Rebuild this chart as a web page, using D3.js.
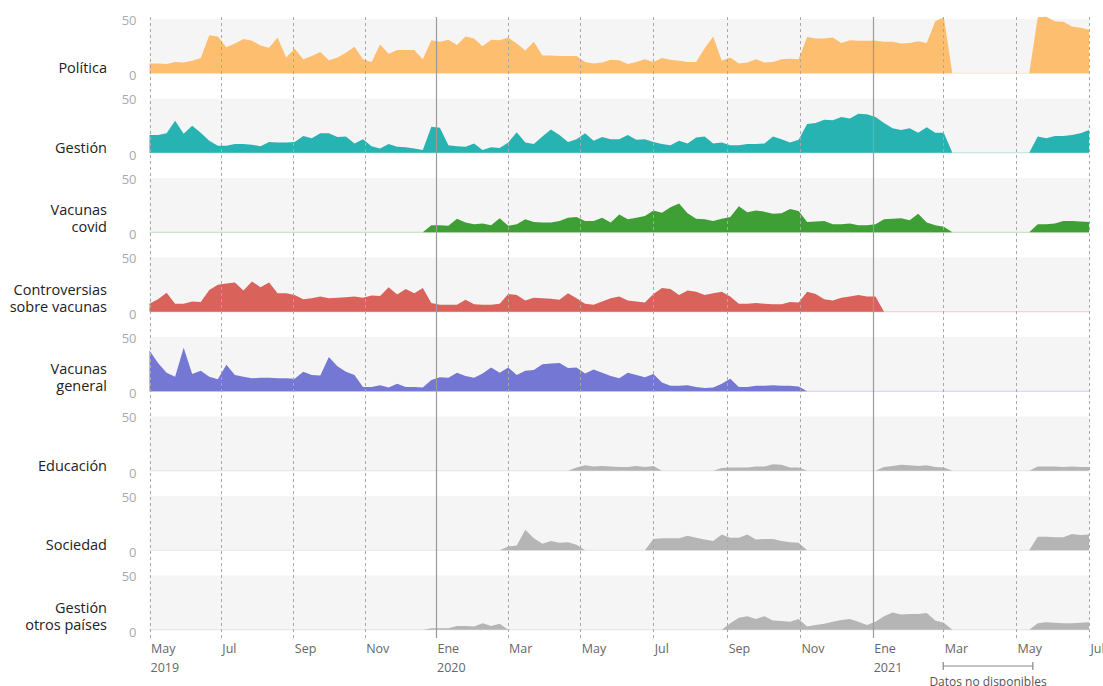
<!DOCTYPE html>
<html>
<head>
<meta charset="utf-8">
<script src="https://cdn.jsdelivr.net/npm/d3@7"></script>
<style>
  body { margin: 0; background: #fff; font-family: "Open Sans", sans-serif; }
</style>
</head>
<body>
<div id="chart"></div>
<script>
// weekly share of coverage per topic, May 2019 - Jul 2021
const categories = [
    ["Política"],
    ["Gestión"],
    ["Vacunas", "covid"],
    ["Controversias", "sobre vacunas"],
    ["Vacunas", "general"],
    ["Educación"],
    ["Sociedad"],
    ["Gestión", "otros países"]
]

const politica = [9, 9, 8.5, 10.5, 10, 11.5, 14, 35, 34, 24,
    27.5, 31.5, 30, 25.5, 23.5, 33, 14.5, 22.5, 13, 16,
    19.5, 12, 14.5, 19, 24.5, 13, 10.5, 26.5, 18, 21.5,
    21.5, 21.5, 13, 30.5, 29, 31, 26, 34, 32, 25,
    31, 30.5, 33, 27.5, 21, 29, 16.5, 16.5, 16, 16,
    16, 10.5, 9, 10, 12.5, 12, 8.5, 10.5, 13, 10.5,
    14, 12.5, 11.5, 10.5, 10.5, 23, 34, 11.5, 14.5, 9,
    10, 13, 10, 10.5, 13, 13.5, 13, 33.5, 32, 32,
    33, 28, 30.5, 30, 30, 30, 29, 29, 27.5, 28,
    29.5, 28, 48, 51.5, 0, 0, 0, 0, 0, 0,
    0, 0, 0, 0, 51.5, 52, 48, 47.5, 43, 42,
    40]

const gestion = [16.5, 16.5, 18, 29.5, 17.5, 25, 18.5, 11, 6.5, 6.5,
    8, 8, 7.5, 6, 10, 9.5, 9.5, 10, 15.5, 13.5,
    18, 18, 14.5, 15, 8.5, 12.5, 6, 4, 8, 5.5,
    5, 4, 2.5, 24, 23, 7, 6, 5.5, 8.5, 2.5,
    5, 4.5, 9.5, 19, 9.5, 8, 15, 21.5, 16.5, 10,
    12.5, 18, 11, 14.5, 12.5, 12.5, 16.5, 12, 12.5, 10,
    8, 7, 11, 8.5, 14, 15, 8.5, 9.5, 7, 7,
    8, 8, 8.5, 15, 12.5, 9.5, 12, 26.5, 27.5, 30.5,
    30, 33, 31.5, 36, 35.5, 33, 27.5, 22.5, 21, 22.5,
    18.5, 23.5, 18.5, 18.5, 0, 0, 0, 0, 0, 0,
    0, 0, 0, 0, 15, 13.5, 15.5, 15.5, 16.5, 18,
    21]

const vacunasCovid = [0, 0, 0, 0, 0, 0, 0, 0, 0, 0,
    0, 0, 0, 0, 0, 0, 0, 0, 0, 0,
    0, 0, 0, 0, 0, 0, 0, 0, 0, 0,
    0, 0, 0, 6.5, 6.5, 6, 12.5, 9, 7.5, 8,
    6.5, 13, 6, 7.5, 12, 9.5, 9, 9, 10.5, 13.5,
    14, 10.5, 10.5, 13.5, 9, 16.5, 12, 13.5, 15, 20,
    18, 23, 26.5, 17.5, 12.5, 12, 10.5, 12.5, 14, 24,
    18.5, 20, 19, 17, 17.5, 21.5, 19.5, 9.5, 10, 10.5,
    7.5, 7.5, 8, 6.5, 6.5, 7.5, 12, 12.5, 13, 11,
    17, 9, 6.5, 5, 0, 0, 0, 0, 0, 0,
    0, 0, 0, 0, 7.5, 7.5, 8, 10.5, 10.5, 10,
    9.5]

const controversias = [7.5, 11.5, 17.5, 7.5, 7.5, 9.5, 9, 20, 25, 26,
    27, 19.5, 28, 22.5, 27, 17, 17, 15.5, 11.5, 12.5,
    14, 12.5, 13, 13.5, 14, 13, 15, 14.5, 22.5, 16,
    21, 17, 22, 8, 6.5, 6.5, 6.5, 11, 7, 6.5,
    6.5, 7.5, 16.5, 15.5, 10.5, 13, 12.5, 12, 11, 17,
    12.5, 7.5, 6.5, 9.5, 12.5, 14, 10.5, 9.5, 8.5, 16.5,
    22, 21, 15.5, 19.5, 18.5, 15.5, 17, 18.5, 14, 7.5,
    7.5, 8, 7.5, 7, 7, 9, 8.5, 18.5, 16.5, 11.5,
    10.5, 13, 14, 15.5, 14, 14, 0, 0, 0, 0,
    0, 0, 0, 0, 0, 0, 0, 0, 0, 0,
    0, 0, 0, 0, 0, 0, 0, 0, 0, 0,
    0]

const vacunasGeneral = [37.5, 26, 17, 13.5, 40, 16, 19, 13.5, 11, 24.5,
    15, 13.5, 12, 12.5, 12.5, 12, 12, 11.5, 18, 15,
    14.5, 31.5, 23, 18, 15, 4, 4, 5.5, 3.5, 7,
    4, 4, 3.5, 10.5, 13, 12.5, 17, 14, 12.5, 16.5,
    22, 17, 22, 15, 19, 19.5, 25, 25.5, 26, 21.5,
    22, 16.5, 20, 17, 14, 12, 17, 15, 13, 16,
    8, 5, 5, 5.5, 4, 3, 3.5, 7, 11.5, 4,
    4, 5, 5, 5.5, 5, 5, 4.5, 0, 0, 0,
    0, 0, 0, 0, 0, 0, 0, 0, 0, 0,
    0, 0, 0, 0, 0, 0, 0, 0, 0, 0,
    0, 0, 0, 0, 0, 0, 0, 0, 0, 0,
    0]

const educacion = [0, 0, 0, 0, 0, 0, 0, 0, 0, 0,
    0, 0, 0, 0, 0, 0, 0, 0, 0, 0,
    0, 0, 0, 0, 0, 0, 0, 0, 0, 0,
    0, 0, 0, 0, 0, 0, 0, 0, 0, 0,
    0, 0, 0, 0, 0, 0, 0, 0, 0, 0,
    3, 5, 4, 4.5, 4, 3.5, 3.5, 4.5, 3.5, 4.5,
    0, 0, 0, 0, 0, 0, 0, 2.5, 3, 3,
    3, 4, 4, 6, 5.5, 3, 3, 0, 0, 0,
    0, 0, 0, 0, 0, 0, 3.5, 4.5, 5.5, 5,
    4.5, 5, 3.5, 3, 0, 0, 0, 0, 0, 0,
    0, 0, 0, 0, 4, 4, 4, 3.5, 4, 3.5,
    3.5]

const sociedad = [0, 0, 0, 0, 0, 0, 0, 0, 0, 0,
    0, 0, 0, 0, 0, 0, 0, 0, 0, 0,
    0, 0, 0, 0, 0, 0, 0, 0, 0, 0,
    0, 0, 0, 0, 0, 0, 0, 0, 0, 0,
    0, 0, 3.5, 4.5, 19, 11, 6, 8.5, 7, 7.5,
    5, 0, 0, 0, 0, 0, 0, 0, 0, 10.5,
    11, 11, 11, 13.5, 11.5, 10, 8.5, 14.5, 11.5, 11.5,
    14.5, 10, 10.5, 10.5, 8.5, 7.5, 7, 0, 0, 0,
    0, 0, 0, 0, 0, 0, 0, 0, 0, 0,
    0, 0, 0, 0, 0, 0, 0, 0, 0, 0,
    0, 0, 0, 0, 12.5, 12.5, 12, 12, 15, 14,
    14.5]

const gestionOtros = [0, 0, 0, 0, 0, 0, 0, 0, 0, 0,
    0, 0, 0, 0, 0, 0, 0, 0, 0, 0,
    0, 0, 0, 0, 0, 0, 0, 0, 0, 0,
    0, 0, 0, 1.5, 1.5, 1.5, 3.5, 3.5, 3, 6,
    3.5, 5.5, 0, 0, 0, 0, 0, 0, 0, 0,
    0, 0, 0, 0, 0, 0, 0, 0, 0, 0,
    0, 0, 0, 0, 0, 0, 0, 0, 6, 11,
    12.5, 10, 12.5, 8.5, 8, 7.5, 10, 3, 4.5, 5.5,
    7.5, 9, 10, 7.5, 4.5, 7.5, 12.5, 16, 14, 14.5,
    14.5, 15.5, 8.5, 6.5, 0, 0, 0, 0, 0, 0,
    0, 0, 0, 0, 6, 7, 6.5, 6, 6, 6.5,
    7]

const yTicks = [0, 50]
const monthLabels = ["Ene", "Feb", "Mar", "Abr", "May", "Jun", "Jul", "Ago", "Sep", "Oct", "Nov", "Dic"]
const firstWeek = new Date(2019, 4, 1)
const lastWeek = new Date(2021, 6, 1)
const gapStart = new Date(2021, 2, 1)
const gapEnd = new Date(2021, 4, 15)
const gapLabel = "Datos no disponibles"

const seriesList = [politica, gestion, vacunasCovid, controversias, vacunasGeneral, educacion, sociedad, gestionOtros]
const colors = ["#fdbe6f", "#27b3b1", "#3e9f34", "#d9625a", "#7577d4", "#b5b5b5", "#b5b5b5", "#b5b5b5"]

const width = 1103
const height = 686
const plotLeft = 149.5
const plotRight = 1089
const plotTop = 19
const bandH = 54.3
const rowStep = 79.5

const svg = d3.select("#chart")
    .append("svg")
    .attr("width", width)
    .attr("height", height)
    .style("font-family", '"Open Sans", sans-serif')

// the source spreads the weeks a bit unevenly over the years, so the time
// scale is piecewise between the year marks
const x = d3.scaleTime()
    .domain([firstWeek, new Date(2020, 0, 1), new Date(2021, 0, 1), lastWeek])
    .range([plotLeft, 436, 872.7, plotRight])

const n = politica.length
const xi = d3.scaleLinear()
    .domain([0, n - 1])
    .range([x(firstWeek), x(lastWeek)])

const rows = svg.append("g")

seriesList.forEach((values, k) => {
    const zero = plotTop + bandH + k * rowStep
    const y = d3.scaleLinear().domain([0, 50]).range([zero, zero - bandH])
    const g = rows.append("g")

    g.append("rect")
        .attr("x", plotLeft)
        .attr("y", y(50))
        .attr("width", plotRight - plotLeft)
        .attr("height", y(0) - y(50))
        .attr("fill", "#f5f5f5")

    g.append("line")
        .attr("x1", plotLeft).attr("x2", plotRight)
        .attr("y1", y(0)).attr("y2", y(0))
        .attr("stroke", colors[k])
        .attr("stroke-opacity", 0.3)

    const area = d3.area()
        .x((d, i) => xi(i))
        .y0(y(0))
        .y1(d => y(d))

    g.append("path")
        .datum(values)
        .attr("d", area)
        .attr("fill", colors[k])

    const yAxis = g.append("g")
        .attr("transform", `translate(${plotLeft},0)`)
        .call(d3.axisLeft(y).tickValues(yTicks).tickSize(0).tickPadding(13))
    yAxis.select(".domain").remove()
    yAxis.selectAll("text")
        .attr("fill", "#aaa")
        .attr("font-size", "13px")
        .attr("font-family", '"Open Sans", sans-serif')
        .attr("dy", d => d == 0 ? "0.5em" : "0.4em")

    const label = g.append("text")
        .attr("text-anchor", "end")
        .attr("font-size", "14.5px")
        .attr("fill", "#222")
    const lines = categories[k]
    lines.forEach((t, j) => {
        label.append("tspan")
            .attr("x", 107)
            .attr("y", zero - (lines.length - 1 - j) * 17)
            .text(t)
    })
})

// vertical grid, solid on January
const monthTicks = d3.timeMonth.every(2).range(firstWeek, d3.timeDay.offset(lastWeek, 1))
svg.append("g")
    .selectAll("line")
    .data(monthTicks)
    .join("line")
    .attr("x1", d => Math.round(x(d)) + 0.5)
    .attr("x2", d => Math.round(x(d)) + 0.5)
    .attr("y1", 17)
    .attr("y2", 638)
    .attr("stroke", d => d.getMonth() == 0 ? "#9a9a9a" : "#a8a8a8")
    .attr("stroke-width", d => d.getMonth() == 0 ? 1.2 : 1)
    .attr("stroke-dasharray", d => d.getMonth() == 0 ? null : "3,3")

const xAxis = svg.append("g")
    .attr("transform", `translate(0,638)`)
    .call(d3.axisBottom(x).tickValues(monthTicks).tickSize(0).tickPadding(6)
        .tickFormat(d => monthLabels[d.getMonth()]))
xAxis.select(".domain").remove()
xAxis.selectAll("text")
    .attr("text-anchor", "start")
    .attr("x", 1)
    .attr("fill", "#666")
    .attr("font-size", "12.5px")
    .attr("font-family", '"Open Sans", sans-serif')

svg.append("g")
    .selectAll("text")
    .data(monthTicks.filter((d, i) => i == 0 || d.getMonth() == 0))
    .join("text")
    .attr("x", d => x(d) + 1)
    .attr("y", 672)
    .attr("fill", "#666")
    .attr("font-size", "12.5px")
    .text(d => d.getFullYear())

// gap annotation
const ann = svg.append("g").attr("stroke", "#888").attr("stroke-width", 1.2)
ann.append("line").attr("x1", x(gapStart)).attr("x2", x(gapEnd)).attr("y1", 666).attr("y2", 666)
ann.append("line").attr("x1", x(gapStart)).attr("x2", x(gapStart)).attr("y1", 662).attr("y2", 670)
ann.append("line").attr("x1", x(gapEnd)).attr("x2", x(gapEnd)).attr("y1", 662).attr("y2", 670)
svg.append("text")
    .attr("x", (x(gapStart) + x(gapEnd)) / 2)
    .attr("y", 686)
    .attr("text-anchor", "middle")
    .attr("fill", "#555")
    .attr("font-size", "12px")
    .text(gapLabel)
</script>
</body>
</html>
